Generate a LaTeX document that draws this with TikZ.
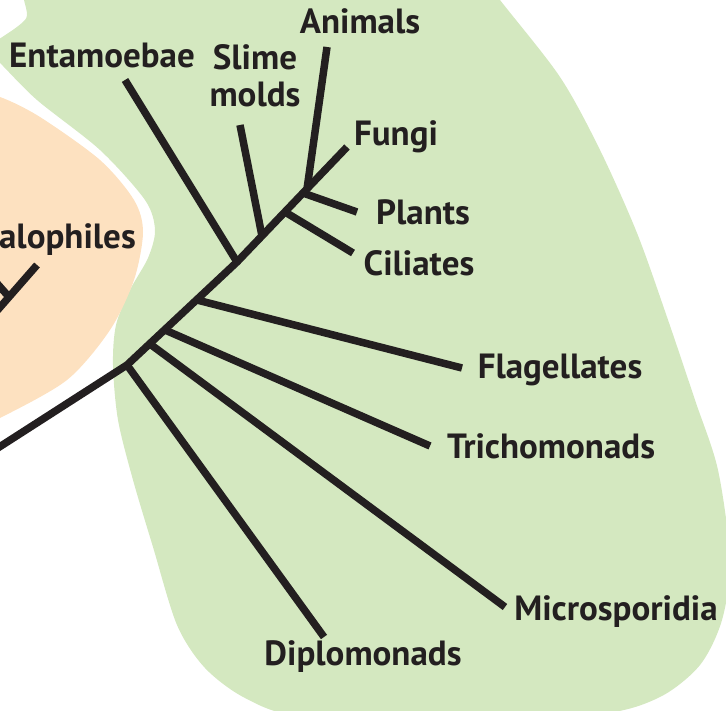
\documentclass[tikz,border=0pt]{standalone}
\usepackage{fontspec}
\setmainfont{PT Sans}
\definecolor{leafgreen}{RGB}{212,232,192}
\definecolor{peach}{RGB}{253,225,192}
\definecolor{ink}{RGB}{35,31,32}
\tikzset{
  branch/.style={draw=ink, line width=7.5pt},
  taxon/.style={text=ink, inner sep=0pt, font=\bfseries\fontsize{35}{37}\selectfont},
}
\begin{document}
\begin{tikzpicture}[x=1pt, y=-1pt]
    \useasboundingbox (0,0) rectangle (726,711);
    \clip (0,0) rectangle (726,711);

    % Eukaryote patch
    \fill[leafgreen] plot[smooth cycle] coordinates {
      (60,-30) (25,20) (-15,50) (0,63) (37,100) (100,150) (145,200) (155,230)
      (148,258) (130,290) (116,325) (113,365) (118,420) (133,480) (153,547)
      (177,625) (205,668) (245,698) (300,716) (450,720) (600,714) (660,697)
      (700,665) (722,620) (730,560) (718,470) (695,400) (667,317) (637,233)
      (600,150) (560,77) (500,0) (470,-40)};

    % Archaea patch
    \fill[peach] plot[smooth] coordinates {
      (-30,92) (0,97) (40,117) (100,160) (134,200) (143,232) (134,280)
      (110,330) (67,380) (0,418) (-30,430)} -- cycle;

    % Halophiles twig
    \coordinate (hjoin) at (9,297);
    \coordinate (htip) at (37,265);
    \draw[branch] (-5,313) -- (htip);
    \draw[branch] (hjoin) -- (-6,280);
    \node[taxon, anchor=east] (halo) at (136,240) {alophiles};

    % Trunk and junctions
    \coordinate (root) at (-10,453);
    \coordinate (jdip) at (127,365);
    \coordinate (jmic) at (150,344);
    \coordinate (jtri) at (165,330);
    \coordinate (jfla) at (197,300);
    \coordinate (jent) at (237,262);
    \coordinate (jsli) at (262,236);
    \coordinate (jcil) at (285,212);
    \coordinate (jpla) at (303,193);
    \coordinate (jani) at (307,189);
    \coordinate (tfun) at (347,147);
    \draw[branch] (root) -- (jdip) -- (jent) -- (tfun);

    % Branch tips
    \coordinate (tani) at (327,47);
    \coordinate (tent) at (125,80);
    \coordinate (tsli) at (240,125);
    \coordinate (tpla) at (357,212);
    \coordinate (tcil) at (353,253);
    \coordinate (tfla) at (462,368);
    \coordinate (ttri) at (430,446);
    \coordinate (tmic) at (505,607);
    \coordinate (tdip) at (324,637);

    \draw[branch] (jani) -- (tani);
    \draw[branch] (jent) -- (tent);
    \draw[branch] (jsli) -- (tsli);
    \draw[branch] (jpla) -- (tpla);
    \draw[branch] (jcil) -- (tcil);
    \draw[branch] (jfla) -- (tfla);
    \draw[branch] (jtri) -- (ttri);
    \draw[branch] (jmic) -- (tmic);
    \draw[branch] (jdip) -- (tdip);

    % Labels
    \node[taxon] (animals) at (360,21) {Animals};
    \node[taxon] (entam) at (102,55) {Entamoebae};
    \node[taxon, align=center] (slime) at (255,76) {Slime\\molds};
    \node[taxon] (fungi) at (396,137) {Fungi};
    \node[taxon] (plants) at (423,212) {Plants};
    \node[taxon] (ciliates) at (419,263) {Ciliates};
    \node[taxon] (flag) at (560,370) {Flagellates};
    \node[taxon] (tricho) at (551,446) {Trichomonads};
    \node[taxon] (micro) at (616,612) {Microsporidia};
    \node[taxon] (diplo) at (363,657) {Diplomonads};
\end{tikzpicture}
\end{document}
